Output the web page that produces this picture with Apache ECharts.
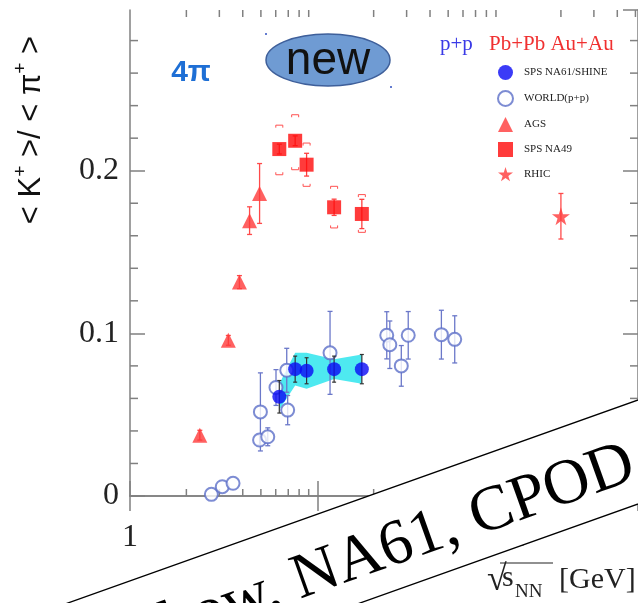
<!DOCTYPE html>
<html>
<head>
<meta charset="utf-8">
<script src="https://cdn.jsdelivr.net/npm/echarts@6/dist/echarts.min.js"></script>
<style>
  html, body { margin: 0; padding: 0; background: #fff; }
  #chart { width: 638px; height: 603px; }
</style>
</head>
<body>
<div id="chart"></div>
<script>
// ---- K+/pi+ ratio versus collision energy (GeV) ----

// NA61/SHINE p+p
const na61Energy = [6.27, 7.62, 8.77, 12.3, 17.3];
const na61Ratio  = [0.061, 0.078, 0.077, 0.078, 0.078];
const na61Stat   = [0.010, 0.008, 0.008, 0.008, 0.009];
const na61Sys    = [0.008, 0.010, 0.011, 0.006, 0.009];

// world p+p data
const worldEnergy = [2.72, 3.11, 3.55, 4.92, 4.97, 5.44, 6.02, 6.87, 6.95, 11.7, 23.5, 24.4, 28.1, 30.6, 46.0, 54.2];
const worldRatio  = [0.001, 0.0057, 0.0078, 0.0344, 0.0517, 0.0364, 0.0667, 0.0773, 0.0528, 0.088, 0.0988, 0.093, 0.080, 0.0988, 0.0992, 0.0963];
const worldErr    = [0, 0, 0, 0.003, 0.024, 0.0055, 0.011, 0.0135, 0.009, 0.0255, 0.0145, 0.0146, 0.0125, 0.0146, 0.015, 0.0145];

// AGS Au+Au
const agsEnergy = [2.36, 3.35, 3.84, 4.35, 4.92];
const agsRatio  = [0.0374, 0.0957, 0.1315, 0.1693, 0.186];
const agsErr    = [0.003, 0.003, 0.004, 0.0085, 0.0184];

// SPS NA49 Pb+Pb
const na49Energy  = [6.27, 7.62, 8.77, 12.3, 17.3];
const na49Ratio   = [0.2133, 0.2184, 0.2037, 0.1775, 0.1734];
const na49Stat    = [0.003, 0.003, 0.007, 0.005, 0.009];
const na49SysUp   = [0.0147, 0.016, 0.0133, 0.0129, 0.0119];
const na49SysDown = [0.0158, 0.0178, 0.0133, 0.0127, 0.0113];

// RHIC Au+Au
const rhicEnergy = [200];
const rhicRatio  = [0.172];
const rhicErr    = [0.014];

// axis ranges and minor ticks
const X_MIN = 1, X_MAX = 516;
const Y_MIN = 0, Y_MAX = 0.2988;
const xMinorTicks = [2, 3, 4, 5, 6, 7, 8, 9, 20, 30, 40, 50, 60, 70, 80, 90, 200, 300, 400, 500];
const yMinorTicks = [0.02, 0.04, 0.06, 0.08, 0.12, 0.14, 0.16, 0.18, 0.22, 0.24, 0.26, 0.28];

const AXIS_COLOR = '#808080';
const SERIF = '"Liberation Serif", "Times New Roman", serif';
const SANS = '"Liberation Sans", Arial, sans-serif';
const STAR = 'path://M50,0 L61,35 L98,35 L68,57 L79,91 L50,70 L21,91 L32,57 L2,35 L39,35 Z';

const pairs = (xs, ys) => xs.map((x, i) => [x, ys[i]]);
const bars = (xs, ys, lo, hi) => xs.map((x, i) => [x, ys[i] - lo[i], ys[i] + hi[i]]);

// vertical error bar with optional end caps
function errorBar(color, capHalf, width) {
  return function (params, api) {
    const x = api.value(0);
    const a = api.coord([x, api.value(1)]);
    const b = api.coord([x, api.value(2)]);
    const kids = [{
      type: 'line', shape: { x1: a[0], y1: a[1], x2: b[0], y2: b[1] },
      style: { stroke: color, lineWidth: width }
    }];
    if (capHalf > 0) {
      [a, b].forEach(p => kids.push({
        type: 'line', shape: { x1: p[0] - capHalf, y1: p[1], x2: p[0] + capHalf, y2: p[1] },
        style: { stroke: color, lineWidth: width }
      }));
    }
    return { type: 'group', children: kids };
  };
}

// systematic brackets (small open-ended boxes above and below)
function sysBracket(color) {
  return function (params, api) {
    const x = api.value(0);
    const lo = api.coord([x, api.value(1)]);
    const hi = api.coord([x, api.value(2)]);
    const w = 3.5, h = 2.5;
    const seg = (x1, y1, x2, y2) => ({ type: 'line', shape: { x1, y1, x2, y2 }, style: { stroke: color, lineWidth: 1 } });
    return {
      type: 'group',
      children: [
        seg(hi[0] - w, hi[1], hi[0] + w, hi[1]),
        seg(hi[0] - w, hi[1], hi[0] - w, hi[1] + h),
        seg(hi[0] + w, hi[1], hi[0] + w, hi[1] + h),
        seg(lo[0] - w, lo[1], lo[0] + w, lo[1]),
        seg(lo[0] - w, lo[1], lo[0] - w, lo[1] - h),
        seg(lo[0] + w, lo[1], lo[0] + w, lo[1] - h)
      ]
    };
  };
}

// shaded systematic band joining the NA61 points
function sysBand(params, api) {
  if (params.dataIndex !== 0) return null;
  const upper = na61Energy.map((e, i) => api.coord([e, na61Ratio[i] + na61Sys[i]]));
  const lower = na61Energy.map((e, i) => api.coord([e, na61Ratio[i] - na61Sys[i]])).reverse();
  return {
    type: 'polygon',
    shape: { points: upper.concat(lower) },
    style: { fill: '#4ee9f0', stroke: null }
  };
}

function xMinorTick(params, api) {
  const v = api.value(0);
  const b = api.coord([v, Y_MIN]);
  const t = api.coord([v, Y_MAX]);
  const st = { stroke: AXIS_COLOR, lineWidth: 1.5 };
  return {
    type: 'group', children: [
      { type: 'line', shape: { x1: b[0], y1: b[1], x2: b[0], y2: b[1] - 7 }, style: st },
      { type: 'line', shape: { x1: t[0], y1: t[1], x2: t[0], y2: t[1] + 7 }, style: st }
    ]
  };
}

function yMinorTick(params, api) {
  const v = api.value(1);
  const l = api.coord([X_MIN, v]);
  const r = api.coord([X_MAX, v]);
  const st = { stroke: AXIS_COLOR, lineWidth: 1.5 };
  return {
    type: 'group', children: [
      { type: 'line', shape: { x1: l[0], y1: l[1], x2: l[0] + 8, y2: l[1] }, style: st },
      { type: 'line', shape: { x1: r[0], y1: r[1], x2: r[0] - 8, y2: r[1] }, style: st }
    ]
  };
}

const axisLine = { show: true, lineStyle: { color: AXIS_COLOR, width: 1.5 } };
const axisTick = { show: true, inside: true, length: 15, lineStyle: { color: AXIS_COLOR, width: 1.5 } };

const chart = echarts.init(document.getElementById('chart'), null, { renderer: 'canvas' });

const BANNER_ANGLE = 19.6 * Math.PI / 180;

chart.setOption({
  animation: false,
  backgroundColor: '#ffffff',
  grid: { left: 130, right: -2, top: 10, bottom: 107, containLabel: false },
  xAxis: [
    {
      type: 'log', logBase: 10, min: X_MIN, max: X_MAX, position: 'bottom',
      axisLine, axisTick, splitLine: { show: false },
      axisLabel: { show: true, showMaxLabel: false, margin: 26, fontFamily: SERIF, fontSize: 32, color: '#222' }
    },
    {
      type: 'log', logBase: 10, min: X_MIN, max: X_MAX, position: 'top',
      axisLine, axisTick, splitLine: { show: false }, axisLabel: { show: false }
    }
  ],
  yAxis: [
    {
      type: 'value', min: Y_MIN, max: Y_MAX, interval: 0.1, position: 'left',
      axisLine, axisTick, splitLine: { show: false },
      axisLabel: { show: true, showMaxLabel: false, margin: 11, fontFamily: SERIF, fontSize: 32, color: '#222' }
    },
    {
      type: 'value', min: Y_MIN, max: Y_MAX, interval: 0.1, position: 'right',
      axisLine, axisTick, splitLine: { show: false }, axisLabel: { show: false }
    }
  ],
  legend: {
    data: ['SPS NA61/SHINE', 'WORLD(p+p)', 'AGS', 'SPS NA49', 'RHIC'],
    orient: 'vertical', left: 492, top: 60,
    itemWidth: 15, itemHeight: 15, itemGap: 10,
    selectedMode: false,
    textStyle: { fontFamily: SERIF, fontSize: 11, color: '#222', padding: [0, 0, 0, 6] }
  },
  series: [
    { name: 'xminor', type: 'custom', renderItem: xMinorTick, data: xMinorTicks.map(v => [v, 0]), silent: true, z: 1 },
    { name: 'yminor', type: 'custom', renderItem: yMinorTick, data: yMinorTicks.map(v => [1, v]), silent: true, z: 1 },
    { name: 'na61 band', type: 'custom', renderItem: sysBand, data: pairs(na61Energy, na61Ratio), silent: true, z: 2 },
    {
      name: 'world err', type: 'custom', z: 3, silent: true,
      renderItem: errorBar('#6b78c9', 2.5, 1.3),
      encode: { x: 0, y: [1, 2] },
      data: bars(worldEnergy, worldRatio, worldErr, worldErr).filter((d, i) => worldErr[i] > 0)
    },
    {
      name: 'WORLD(p+p)', type: 'scatter', z: 4,
      symbol: 'emptyCircle', symbolSize: 13,
      itemStyle: { color: '#5c6fc8', borderColor: '#5c6fc8', borderWidth: 1.3 },
      data: pairs(worldEnergy, worldRatio)
    },
    {
      name: 'na61 err', type: 'custom', z: 5, silent: true,
      renderItem: errorBar('#333333', 2, 1.2),
      encode: { x: 0, y: [1, 2] },
      data: bars(na61Energy, na61Ratio, na61Stat, na61Stat)
    },
    {
      name: 'SPS NA61/SHINE', type: 'scatter', z: 6,
      symbol: 'circle', symbolSize: 14,
      itemStyle: { color: '#0a0af5' },
      data: pairs(na61Energy, na61Ratio)
    },
    {
      name: 'ags err', type: 'custom', z: 5, silent: true,
      renderItem: errorBar('#ff4a4a', 2.5, 1.3),
      encode: { x: 0, y: [1, 2] },
      data: bars(agsEnergy, agsRatio, agsErr, agsErr)
    },
    {
      name: 'AGS', type: 'scatter', z: 6,
      symbol: 'triangle', symbolSize: 15,
      itemStyle: { color: '#ff3a3a' },
      data: pairs(agsEnergy, agsRatio)
    },
    {
      name: 'na49 sys', type: 'custom', z: 5, silent: true,
      renderItem: sysBracket('#ff5050'),
      encode: { x: 0, y: [1, 2] },
      data: bars(na49Energy, na49Ratio, na49SysDown, na49SysUp)
    },
    {
      name: 'na49 err', type: 'custom', z: 5, silent: true,
      renderItem: errorBar('#ff4040', 2.5, 1.3),
      encode: { x: 0, y: [1, 2] },
      data: bars(na49Energy, na49Ratio, na49Stat, na49Stat)
    },
    {
      name: 'SPS NA49', type: 'scatter', z: 6,
      symbol: 'rect', symbolSize: 14,
      itemStyle: { color: '#ff0a0a' },
      data: pairs(na49Energy, na49Ratio)
    },
    {
      name: 'rhic err', type: 'custom', z: 5, silent: true,
      renderItem: errorBar('#ff4a4a', 2.5, 1.3),
      encode: { x: 0, y: [1, 2] },
      data: bars(rhicEnergy, rhicRatio, rhicErr, rhicErr)
    },
    {
      name: 'RHIC', type: 'scatter', z: 6,
      symbol: STAR, symbolSize: 18,
      itemStyle: { color: '#ff3a3a' },
      data: pairs(rhicEnergy, rhicRatio)
    }
  ],
  graphic: [
    // y-axis title, rotated to read upwards
    {
      type: 'text', x: 31, y: 130, rotation: Math.PI / 2, z: 10,
      style: {
        text: '< K{sup|+} >/ < π{sup|+} >',
        fontFamily: SANS, fontSize: 31, lineHeight: 40, fill: '#111',
        align: 'center', verticalAlign: 'middle',
        rich: { sup: { fontFamily: SANS, fontSize: 19, verticalAlign: 'top', fill: '#111' } }
      }
    },
    // 4π label
    {
      type: 'text', x: 191, y: 73, z: 10,
      style: { text: '4π', fontFamily: SANS, fontWeight: 'bold', fontSize: 30, fill: '#1e6fd5', align: 'center', verticalAlign: 'middle' }
    },
    // "new" badge
    {
      type: 'ellipse', z: 10,
      shape: { cx: 328, cy: 60, rx: 62, ry: 26 },
      style: { fill: '#6f9bd3', stroke: '#3e5f9a', lineWidth: 1.5 }
    },
    {
      type: 'text', x: 328, y: 61, z: 11,
      style: { text: 'new', fontFamily: SANS, fontSize: 46, fill: '#111', align: 'center', verticalAlign: 'middle' }
    },
    { type: 'circle', z: 10, shape: { cx: 266, cy: 34, r: 1 }, style: { fill: '#3050c0' } },
    { type: 'circle', z: 10, shape: { cx: 391, cy: 87, r: 1 }, style: { fill: '#3050c0' } },
    // legend headers
    {
      type: 'text', x: 440, y: 44, z: 10,
      style: { text: 'p+p', fontFamily: SERIF, fontSize: 21, fill: '#3a3ae6', align: 'left', verticalAlign: 'middle' }
    },
    {
      type: 'text', x: 489, y: 44, z: 10,
      style: { text: 'Pb+Pb Au+Au', fontFamily: SERIF, fontSize: 21, fill: '#f03030', align: 'left', verticalAlign: 'middle' }
    },
    // x-axis title: sqrt(s_NN) [GeV]
    {
      type: 'text', x: 487, y: 581, z: 10,
      style: { text: '√', fontFamily: SERIF, fontSize: 36, fill: '#222', align: 'left', verticalAlign: 'middle' }
    },
    {
      type: 'line', z: 10,
      shape: { x1: 500, y1: 563, x2: 553, y2: 563 },
      style: { stroke: '#222', lineWidth: 1.2 }
    },
    {
      type: 'text', x: 502, y: 578, z: 10,
      style: { text: 's', fontFamily: SERIF, fontSize: 30, fill: '#222', align: 'left', verticalAlign: 'middle' }
    },
    {
      type: 'text', x: 515, y: 592, z: 10,
      style: { text: 'NN', fontFamily: SERIF, fontSize: 19, fill: '#222', align: 'left', verticalAlign: 'middle' }
    },
    {
      type: 'text', x: 559, y: 580, z: 10,
      style: { text: '[GeV]', fontFamily: SERIF, fontSize: 30, fill: '#222', align: 'left', verticalAlign: 'middle' }
    },
    // slanted banner across the lower right
    {
      type: 'group', x: 638, y: 400, rotation: BANNER_ANGLE, z: 50,
      children: [
        {
          type: 'rect', shape: { x: -800, y: 0, width: 900, height: 98 },
          style: { fill: '#ffffff', stroke: '#000000', lineWidth: 1.3 }, z: 50
        },
        {
          type: 'text', x: -26, y: 57, z: 51,
          style: { text: 'K. Grebieszkow, NA61, CPOD', fontFamily: SERIF, fontSize: 64, fill: '#000', align: 'right', verticalAlign: 'middle' }
        }
      ]
    }
  ]
});
</script>
</body>
</html>
